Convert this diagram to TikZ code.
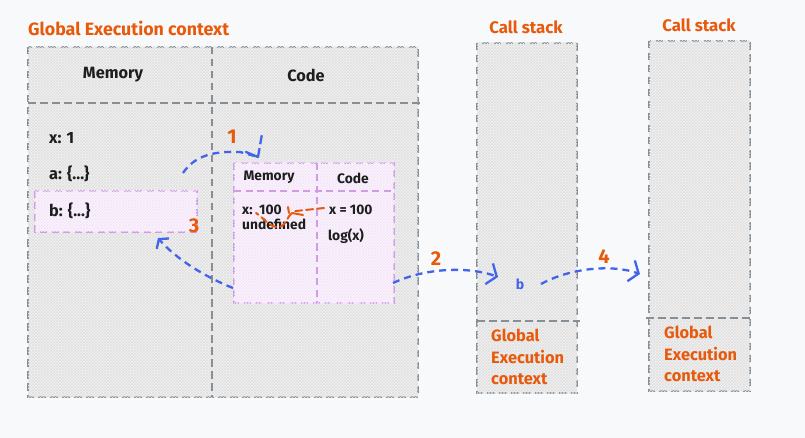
\documentclass[tikz,border=0pt]{standalone}
\usepackage{fontspec}
\setmainfont{Fira Sans}
\usetikzlibrary{patterns,arrows.meta}
\definecolor{bg}{HTML}{F8F9FA}
\definecolor{frame}{HTML}{868E96}
\definecolor{org}{HTML}{E8590C}
\definecolor{blu}{HTML}{4263EB}
\definecolor{pur}{HTML}{D29BE6}
\definecolor{ink}{HTML}{1E1E1E}
\begin{document}
\begin{tikzpicture}[x=1pt,y=-1pt,
  greybox/.style={draw=frame, line width=1.6pt, dash pattern=on 7.5pt off 4.5pt,
    fill=black!5, postaction={pattern=crosshatch, pattern color=black!12}},
  greyline/.style={draw=frame, line width=1.6pt, dash pattern=on 7.5pt off 4.5pt},
  purbox/.style={draw=pur, line width=1.4pt, dash pattern=on 7pt off 4.5pt,
    fill=pur!9, postaction={pattern=crosshatch, pattern color=pur!25}},
  purline/.style={draw=pur, line width=1.4pt, dash pattern=on 7pt off 4.5pt},
  lbl/.style={inner sep=0pt, text=ink, font=\fontsize{16.3}{18}\selectfont\bfseries},
  slbl/.style={inner sep=0pt, text=ink, font=\fontsize{13.8}{16}\selectfont\bfseries},
  olbl/.style={inner sep=0pt, text=org, font=\fontsize{16.8}{18}\selectfont\bfseries},
  num/.style={inner sep=0pt, text=org, font=\fontsize{20}{22}\selectfont\bfseries},
  flow/.style={draw=blu, line width=2.3pt, dash pattern=on 7pt off 5pt,
    -{Straight Barb[length=8pt,width=22pt,line width=2.3pt]}},
  gec/.style={inner sep=0pt, text=org, align=left, anchor=north west,
    font=\fontsize{16.4}{21.5}\selectfont\bfseries}
]
\useasboundingbox (0,0) rectangle (805,438);
\fill[bg] (0,0) rectangle (805,438);

% ---------- Global execution context ----------
\node[olbl, anchor=west, font=\fontsize{17.8}{19}\selectfont\bfseries] (gtitle) at (28,28) {Global Execution context};
\path[greybox] (28,47) rectangle (418,397);
\draw[greyline] (28,103) -- (421,103);
\draw[greyline] (212,47) -- (212,397);
\node[lbl] (gmem) at (113,75) {Memory};
\node[lbl] (gcode) at (306,75) {Code};
\node[lbl, anchor=west] (vx) at (49,138) {x: 1};
\node[lbl, anchor=west] (va) at (49,174) {a: \{...\}};
\path[purbox] (35,191) rectangle (197,232);
\node[lbl, anchor=west] (vb) at (49,211) {b: \{...\}};

% ---------- inner execution context of b ----------
\path[purbox] (234,163) rectangle (394,303);
\draw[purline] (234,191) -- (394,191);
\draw[purline] (317,163) -- (317,303);
\node[slbl] (imem) at (269,177) {Memory};
\node[slbl] (icode) at (353,178) {Code};
\node[slbl, anchor=west] (ix) at (242,210) {x:\ \ 100};
\node[slbl, anchor=west] (iundef) at (242,224) {undefined};
\node[slbl, anchor=west] (iassign) at (329,210) {x = 100};
\node[slbl, anchor=west] (ilog) at (328,236) {log(x)};

% orange scribble from assignment to the value
\coordinate (s0) at (324,208);
\coordinate (s1) at (256,213);
\draw[org, line width=2pt, dash pattern=on 7pt off 4pt, line cap=round]
  (s0) -- (296,211) .. controls (287,213) and (287,226) .. (279,227)
  .. controls (270,228) and (264,218) .. (s1);
\draw[org, line width=2pt, line cap=round] (288,207) -- (289,213);
\draw[org, line width=2pt, line cap=round] (292,213) -- (303,215);

% ---------- call stacks ----------
\node[olbl] (cs1t) at (526,27) {Call stack};
\path[greybox] (477,43) rectangle (577,393);
\draw[greyline] (477,321) -- (580,321);
\node[gec] (cs1g) at (491,329) {Global\\Execution\\context};

\node[olbl] (cs2t) at (699,25) {Call stack};
\path[greybox] (649,41) rectangle (750,391);
\draw[greyline] (646,318) -- (753,318);
\node[gec] (cs2g) at (664,326) {Global\\Execution\\context};

\node[inner sep=0pt, text=blu, font=\fontsize{14}{16}\selectfont\bfseries] (bcall) at (520,284) {b};

% ---------- numbered arrows ----------
\coordinate (a1s) at (183,173);
\coordinate (a1e) at (258,157);
\draw[blu, line width=2.3pt, dash pattern=on 7pt off 5pt]
  (a1s) .. controls (195,155) and (215,151) .. (240,152) -- (a1e);
\draw[blu, line width=2.3pt, line cap=round] (a1e) -- (246,152);
\draw[blu, line width=2.3pt, dash pattern=on 9pt off 4pt] (a1e) -- (262,134);
\node[num] (n1) at (232,137) {1};

\coordinate (a3s) at (233,288);
\coordinate (a3e) at (158,238);
\draw[flow, -{Straight Barb[length=6pt,width=16pt,line width=2.3pt]}]
  (a3s) .. controls (205,277) and (175,258) .. (a3e);
\node[num] (n3) at (194,226) {3};

\coordinate (a2s) at (393,283);
\coordinate (a2e) at (498,277);
\draw[flow] (a2s) .. controls (425,268) and (468,266) .. (a2e);
\node[num] (n2) at (436,259) {2};

\coordinate (a4s) at (541,284);
\coordinate (a4e) at (640,274);
\draw[flow] (a4s) .. controls (570,268) and (612,264) .. (a4e);
\node[num] (n4) at (604,257) {4};
\end{tikzpicture}
\end{document}
